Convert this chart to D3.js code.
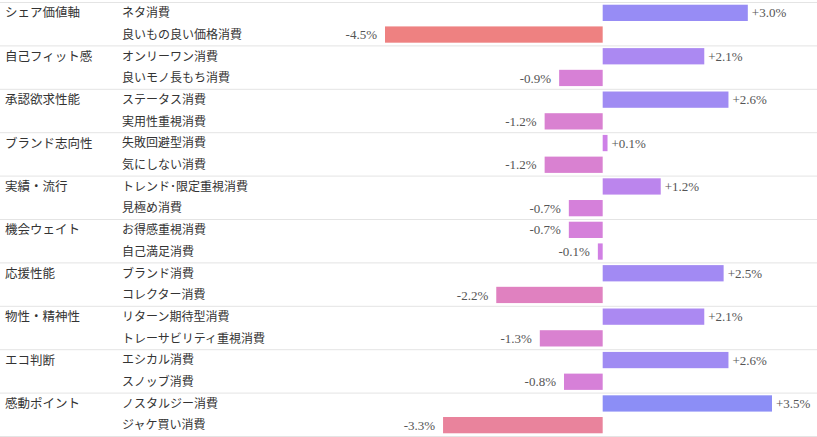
<!DOCTYPE html>
<html>
<head>
<meta charset="utf-8">
<script src="https://cdn.jsdelivr.net/npm/d3@7"></script>
<style>
  body { margin: 0; background: #fff; }
  svg { display: block; }
</style>
</head>
<body>
<script>
// Groups (two rows each)
const groups = ["シェア価値軸", "自己フィット感", "承認欲求性能", "ブランド志向性", "実績・流行",
    "機会ウェイト", "応援性能", "物性・精神性", "エコ判断", "感動ポイント"];

// Row labels, top to bottom
const items = [
    "ネタ消費", "良いもの良い価格消費",
    "オンリーワン消費", "良いモノ長もち消費",
    "ステータス消費", "実用性重視消費",
    "失敗回避型消費", "気にしない消費",
    "トレンド･限定重視消費", "見極め消費",
    "お得感重視消費", "自己満足消費",
    "ブランド消費", "コレクター消費",
    "リターン期待型消費", "トレーサビリティ重視消費",
    "エシカル消費", "スノッブ消費",
    "ノスタルジー消費", "ジャケ買い消費"
];

// Change in %
const values = [
    3.0, -4.5,
    2.1, -0.9,
    2.6, -1.2,
    0.1, -1.2,
    1.2, -0.7,
    -0.7, -0.1,
    2.5, -2.2,
    2.1, -1.3,
    2.6, -0.8,
    3.5, -3.3
];

const width = 817;
const height = 437;
const margin = {top: 2, bottom: 1};

const font = "'Liberation Serif', 'Noto Sans CJK JP', serif";
const jpFont = "'Noto Sans CJK JP', sans-serif";

const y = d3.scaleBand()
    .domain(d3.range(items.length))
    .range([margin.top, height - margin.bottom])
    .paddingInner(0.25)
    .paddingOuter(0.125);

const step = y.step();

const x = d3.scaleLinear()
    .domain([-4.5, 3.5])
    .range([385, 772]);

const color = d3.scaleLinear()
    .domain([-4.5, -3.3, -2.2, 0, 2.1, 3.5])
    .range(["#ee8181", "#e9839c", "#e081c0", "#d080e6", "#ab89f2", "#8c8ef6"]);

const fmt = v => (v > 0 ? "+" : "") + v.toFixed(1) + "%";

const svg = d3.select("body").append("svg")
    .attr("width", width)
    .attr("height", height)
    .attr("viewBox", [0, 0, width, height]);

// Group separators
svg.append("g")
    .selectAll("line")
    .data(d3.range(groups.length + 1))
    .join("line")
    .attr("x1", 0)
    .attr("x2", width)
    .attr("y1", i => y.range()[0] + i * 2 * step + 0.5)
    .attr("y2", i => y.range()[0] + i * 2 * step + 0.5)
    .attr("stroke", "#e4e4e4")
    .attr("stroke-width", 1);

// Group labels
svg.append("g")
    .style("font", `12.5px ${jpFont}`)
    .attr("fill", "#333")
    .selectAll("text")
    .data(groups)
    .join("text")
    .attr("x", 5)
    .attr("y", (d, i) => y(i * 2) + y.bandwidth() / 2)
    .attr("dy", "0.36em")
    .text(d => d);

// Item labels
svg.append("g")
    .style("font", `12px ${jpFont}`)
    .attr("fill", "#333")
    .selectAll("text")
    .data(items)
    .join("text")
    .attr("x", 122)
    .attr("y", (d, i) => y(i) + y.bandwidth() / 2)
    .attr("dy", "0.36em")
    .text(d => d);

// Bars
svg.append("g")
    .selectAll("rect")
    .data(values)
    .join("rect")
    .attr("x", d => x(Math.min(0, d)))
    .attr("y", (d, i) => y(i))
    .attr("width", d => Math.abs(x(d) - x(0)))
    .attr("height", y.bandwidth())
    .attr("fill", d => color(d));

// Value labels
svg.append("g")
    .style("font", `13px ${font}`)
    .attr("fill", "#555")
    .selectAll("text")
    .data(values)
    .join("text")
    .attr("x", d => d >= 0 ? x(d) + 4 : x(d) - 8)
    .attr("y", (d, i) => y(i) + y.bandwidth() / 2)
    .attr("dy", "0.35em")
    .attr("text-anchor", d => d >= 0 ? "start" : "end")
    .text(fmt);
</script>
</body>
</html>
